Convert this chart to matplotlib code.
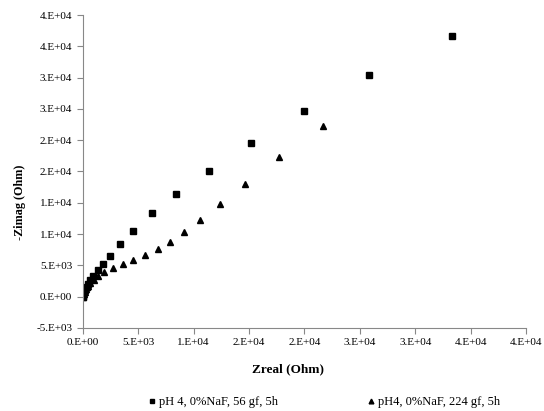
import matplotlib
matplotlib.use("Agg")
import matplotlib.pyplot as plt
from matplotlib.lines import Line2D

# series 1: pH 4, 0%NaF, 56 gf, 5h (squares)
sq_x = [5, 20, 60, 120, 220, 350, 500, 700, 960, 1350, 1800, 2460, 3370,
        4510, 6230, 8450, 11400, 15190, 20000, 25870, 33330]
sq_y = [20, 100, 350, 700, 1100, 1600, 2100, 2700, 3350, 4270, 5220, 6550, 8370,
        10540, 13320, 16450, 20130, 24550, 29710, 35460, 41650]

# series 2: pH4, 0%NaF, 224 gf, 5h (triangles)
tr_x = [5, 25, 80, 170, 300, 480, 700, 1000, 1410, 1950, 2730, 3610, 4540,
        5650, 6770, 7880, 9140, 10610, 12390, 14650, 17720, 21690]
tr_y = [20, 120, 400, 750, 1150, 1650, 2150, 2700, 3260, 3900, 4540, 5220, 5910,
        6660, 7570, 8740, 10340, 12250, 14810, 18050, 22270, 27320]

x_ticks = [0, 5000, 10000, 15000, 20000, 25000, 30000, 35000, 40000]
x_labels = ["0.E+00", "5.E+03", "1.E+04", "2.E+04", "2.E+04", "3.E+04", "3.E+04", "4.E+04", "4.E+04"]
y_ticks = [-5000, 0, 5000, 10000, 15000, 20000, 25000, 30000, 35000, 40000, 45000]
y_labels = ["-5.E+03", "0.E+00", "5.E+03", "1.E+04", "1.E+04", "2.E+04", "2.E+04",
            "3.E+04", "3.E+04", "4.E+04", "4.E+04"]

labels = ["pH 4, 0%NaF, 56 gf, 5h", "pH4, 0%NaF, 224 gf, 5h"]

plt.rcParams["font.family"] = ["Liberation Serif", "DejaVu Serif"]

fig = plt.figure(figsize=(5.44, 4.11), dpi=100)
ax = fig.add_axes([0.152, 0.202, 0.815, 0.7615])

ax.plot(sq_x, sq_y, "s", color="black", markersize=4.3, linestyle="none")
ax.plot(tr_x, tr_y, "^", color="black", markersize=4.5, linestyle="none")

ax.set_xlim(0, 40000)
ax.set_ylim(-5000, 45000)
ax.set_xticks(x_ticks)
ax.set_xticklabels(x_labels)
ax.set_yticks(y_ticks)
ax.set_yticklabels(y_labels)
ax.tick_params(labelsize=8, color="#888888", length=4, width=0.8, direction="out")
for s in ["top", "right"]:
    ax.spines[s].set_visible(False)
for s in ["left", "bottom"]:
    ax.spines[s].set_color("#888888")
    ax.spines[s].set_linewidth(0.8)

ax.set_xlabel("Zreal (Ohm)", fontsize=9.5, fontweight="bold")
ax.xaxis.set_label_coords(0.462, -0.113)
ax.set_ylabel("-Zimag (Ohm)", fontsize=8.7, fontweight="bold")
ax.yaxis.set_label_coords(-0.127, 0.40)

handles = [
    Line2D([], [], marker="s", color="black", linestyle="none", markersize=3.4),
    Line2D([], [], marker="^", color="black", linestyle="none", markersize=3.4),
]
fig.legend(handles, labels, loc="center", bbox_to_anchor=(0.596, 0.022), ncol=2,
           frameon=False, fontsize=9, handletextpad=0.3, columnspacing=7.2,
           handlelength=0.5, borderpad=0)

fig.savefig("out.png", dpi=100)
